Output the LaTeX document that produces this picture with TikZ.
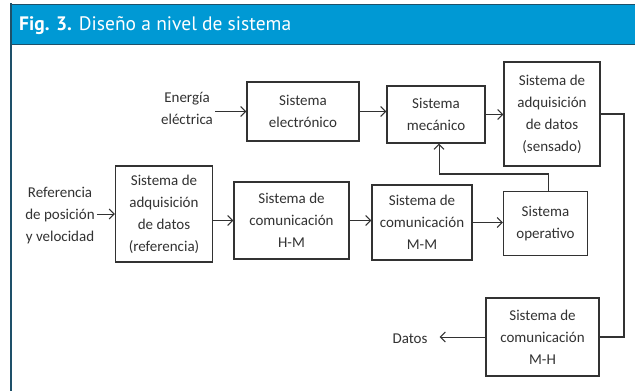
\documentclass[tikz,border=0pt]{standalone}
\usepackage{fontspec}
\setmainfont{Carlito}
\newfontfamily\headfont{PT Sans}
\usetikzlibrary{positioning,arrows.meta}

\definecolor{headblue}{RGB}{0,153,212}
\definecolor{headline}{RGB}{30,80,105}
\definecolor{ink}{RGB}{50,50,50}

\tikzset{
	sysbox/.style={draw=ink, line width=1.3pt, align=center, inner sep=0pt,
		font=\fontsize{15}{22}\selectfont, text=ink},
	label/.style={align=center, inner sep=2pt,
		font=\fontsize{15}{22}\selectfont, text=ink},
	flow/.style={draw=ink, line width=1pt, -{Straight Barb[length=5pt,width=10pt]}},
	wire/.style={draw=ink, line width=1.3pt},
}

\begin{document}
\begin{tikzpicture}[x=1pt, y=-1pt]
	\useasboundingbox (0,0) rectangle (635,391);

	% frame and header
	\fill[white] (0,0) rectangle (635,391);
	\draw[headline, line width=1.8pt] (11,3) -- (11,391);
	\draw[headline, line width=1pt, fill=headblue] (11,4) rectangle (640,44);
	\node[anchor=base west, inner sep=0pt, text=white,
		font=\headfont\fontsize{19.5}{22}\selectfont] (title) at (19,30)
		{\textbf{Fig. 3.} Diseño a nivel de sistema};

	% blocks
	\node[sysbox, minimum width=112, minimum height=59] (elec) at (303,111.5) {Sistema\\electrónico};
	\node[sysbox, minimum width=98, minimum height=57] (mec) at (436,114.5) {Sistema\\mecánico};
	\node[sysbox, minimum width=96, minimum height=104] (sens) at (552,114) {Sistema de\\adquisición\\de datos\\(sensado)};
	\node[sysbox, minimum width=97, minimum height=96] (ref) at (164,214) {Sistema de\\adquisición\\de datos\\(referencia)};
	\node[sysbox, minimum width=115, minimum height=77] (hm) at (291.5,220.5) {Sistema de\\comunicación\\H-M};
	\node[sysbox, minimum width=100, minimum height=75] (mm) at (422,222.5) {Sistema de\\comunicación\\M-M};
	\node[sysbox, minimum width=84, minimum height=64] (op) at (545.5,223.5) {Sistema\\operativo};
	\node[sysbox, minimum width=113, minimum height=78] (mh) at (542.5,337) {Sistema de\\comunicación\\M-H};

	% inputs and outputs
	\node[label] (energia) at (187,108) {Energía\\eléctrica};
	\node[label] (refpv) at (60,216) {Referencia\\de posición\\y velocidad};
	\node[label] (datos) at (410,339) {Datos};

	\coordinate (fb) at (439,174);
	\coordinate (rt) at (624,200);

	% connectors
	\draw[flow] (energia.east |- elec.west) -- (elec.west);
	\draw[flow] (elec.east) -- (elec.east -| mec.west);
	\draw[flow] (mec.east) -- (mec.east -| sens.west);
	\draw[flow] ([yshift=2pt]refpv.east) -- ([yshift=2pt]refpv.east -| ref.west);
	\draw[flow] (ref.east |- hm.west) -- (hm.west);
	\draw[flow] (hm.east) -- (hm.east -| mm.west);
	\draw[flow] (mm.east) -- (mm.east -| op.west);
	\draw[wire] ([xshift=3pt]op.north) |- (fb);
	\draw[flow] (fb) -- (fb |- mec.south);
	\draw[wire] (sens.east) -| (rt) |- (mh.east);
	\draw[flow] (mh.west) -- ([xshift=10pt]datos.east |- mh.west);

\end{tikzpicture}
\end{document}
